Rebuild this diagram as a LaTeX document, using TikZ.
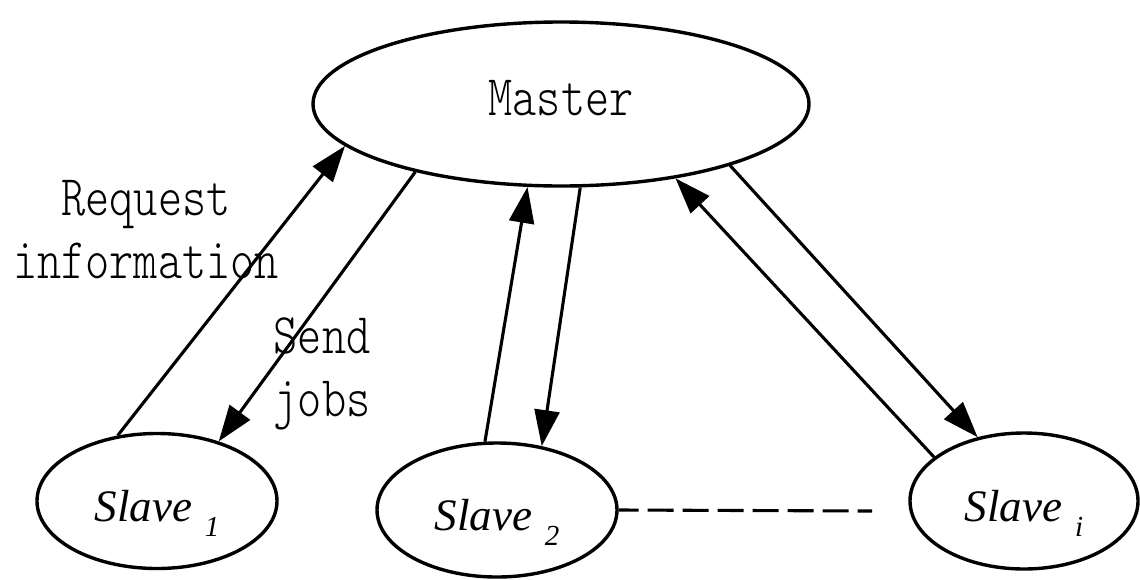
\documentclass[tikz,border=0pt]{standalone}
\usepackage{fontspec}
\setmainfont{Liberation Serif}
\newfontfamily\monof{lmmonolt10-regular.otf}
\usepackage{graphicx}
\usetikzlibrary{shapes.geometric,arrows.meta}
\newcommand{\tallm}[1]{\scalebox{1}[1.25]{#1}}
\newcommand{\slv}[1]{{\itshape Slave\hspace{13pt}\raisebox{-15pt}{\fontsize{29}{29}\selectfont #1}}}
\begin{document}
\begin{tikzpicture}[x=1pt,y=-1pt,
  ell/.style={draw, ellipse, line width=3.4pt, inner sep=0pt},
  arr/.style={line width=3.1pt, -{Triangle[length=36pt,width=25pt]}},
  mono/.style={font=\monof\fontsize{46}{63}\selectfont},
  slvfont/.style={font=\fontsize{45}{45}\selectfont, text height=40pt, text depth=0pt}]
\useasboundingbox (0,0) rectangle (1140,579);
\fill[white] (0,0) rectangle (1140,579);
\node[ell, minimum width=496pt, minimum height=164pt, mono, text height=22pt, text depth=0pt] (m) at (561,104) {\tallm{Master}};
\node[ell, minimum width=240pt, minimum height=135pt, slvfont] (s1) at (157,501) {\slv{1}};
\node[ell, minimum width=240pt, minimum height=134pt, slvfont] (s2) at (497,510) {\slv{2}};
\node[ell, minimum width=228pt, minimum height=136pt, slvfont] (si) at (1024,501) {\slv{i}};
\draw[arr] (s1.121) -- (m.191);
\draw[arr] (m.205) -- (s1.44);
\draw[arr] (s2.100) -- (m.248);
\draw[arr] (m.283) -- (s2.55);
\draw[arr] (si.154) -- (m.327);
\draw[arr] (m.340) -- (si.126);
\coordinate (dend) at (872,511);
\draw[line width=3.1pt, dash pattern=on 26pt off 9pt, dash phase=6pt] (s2.east) -- (dend);
\node[mono, align=center, anchor=base] (req) at (146,278) {\tallm{Request}\\\tallm{information}};
\node[mono, align=center, anchor=base] (send) at (322,416) {\tallm{Send}\\\tallm{jobs}};
\end{tikzpicture}
\end{document}
